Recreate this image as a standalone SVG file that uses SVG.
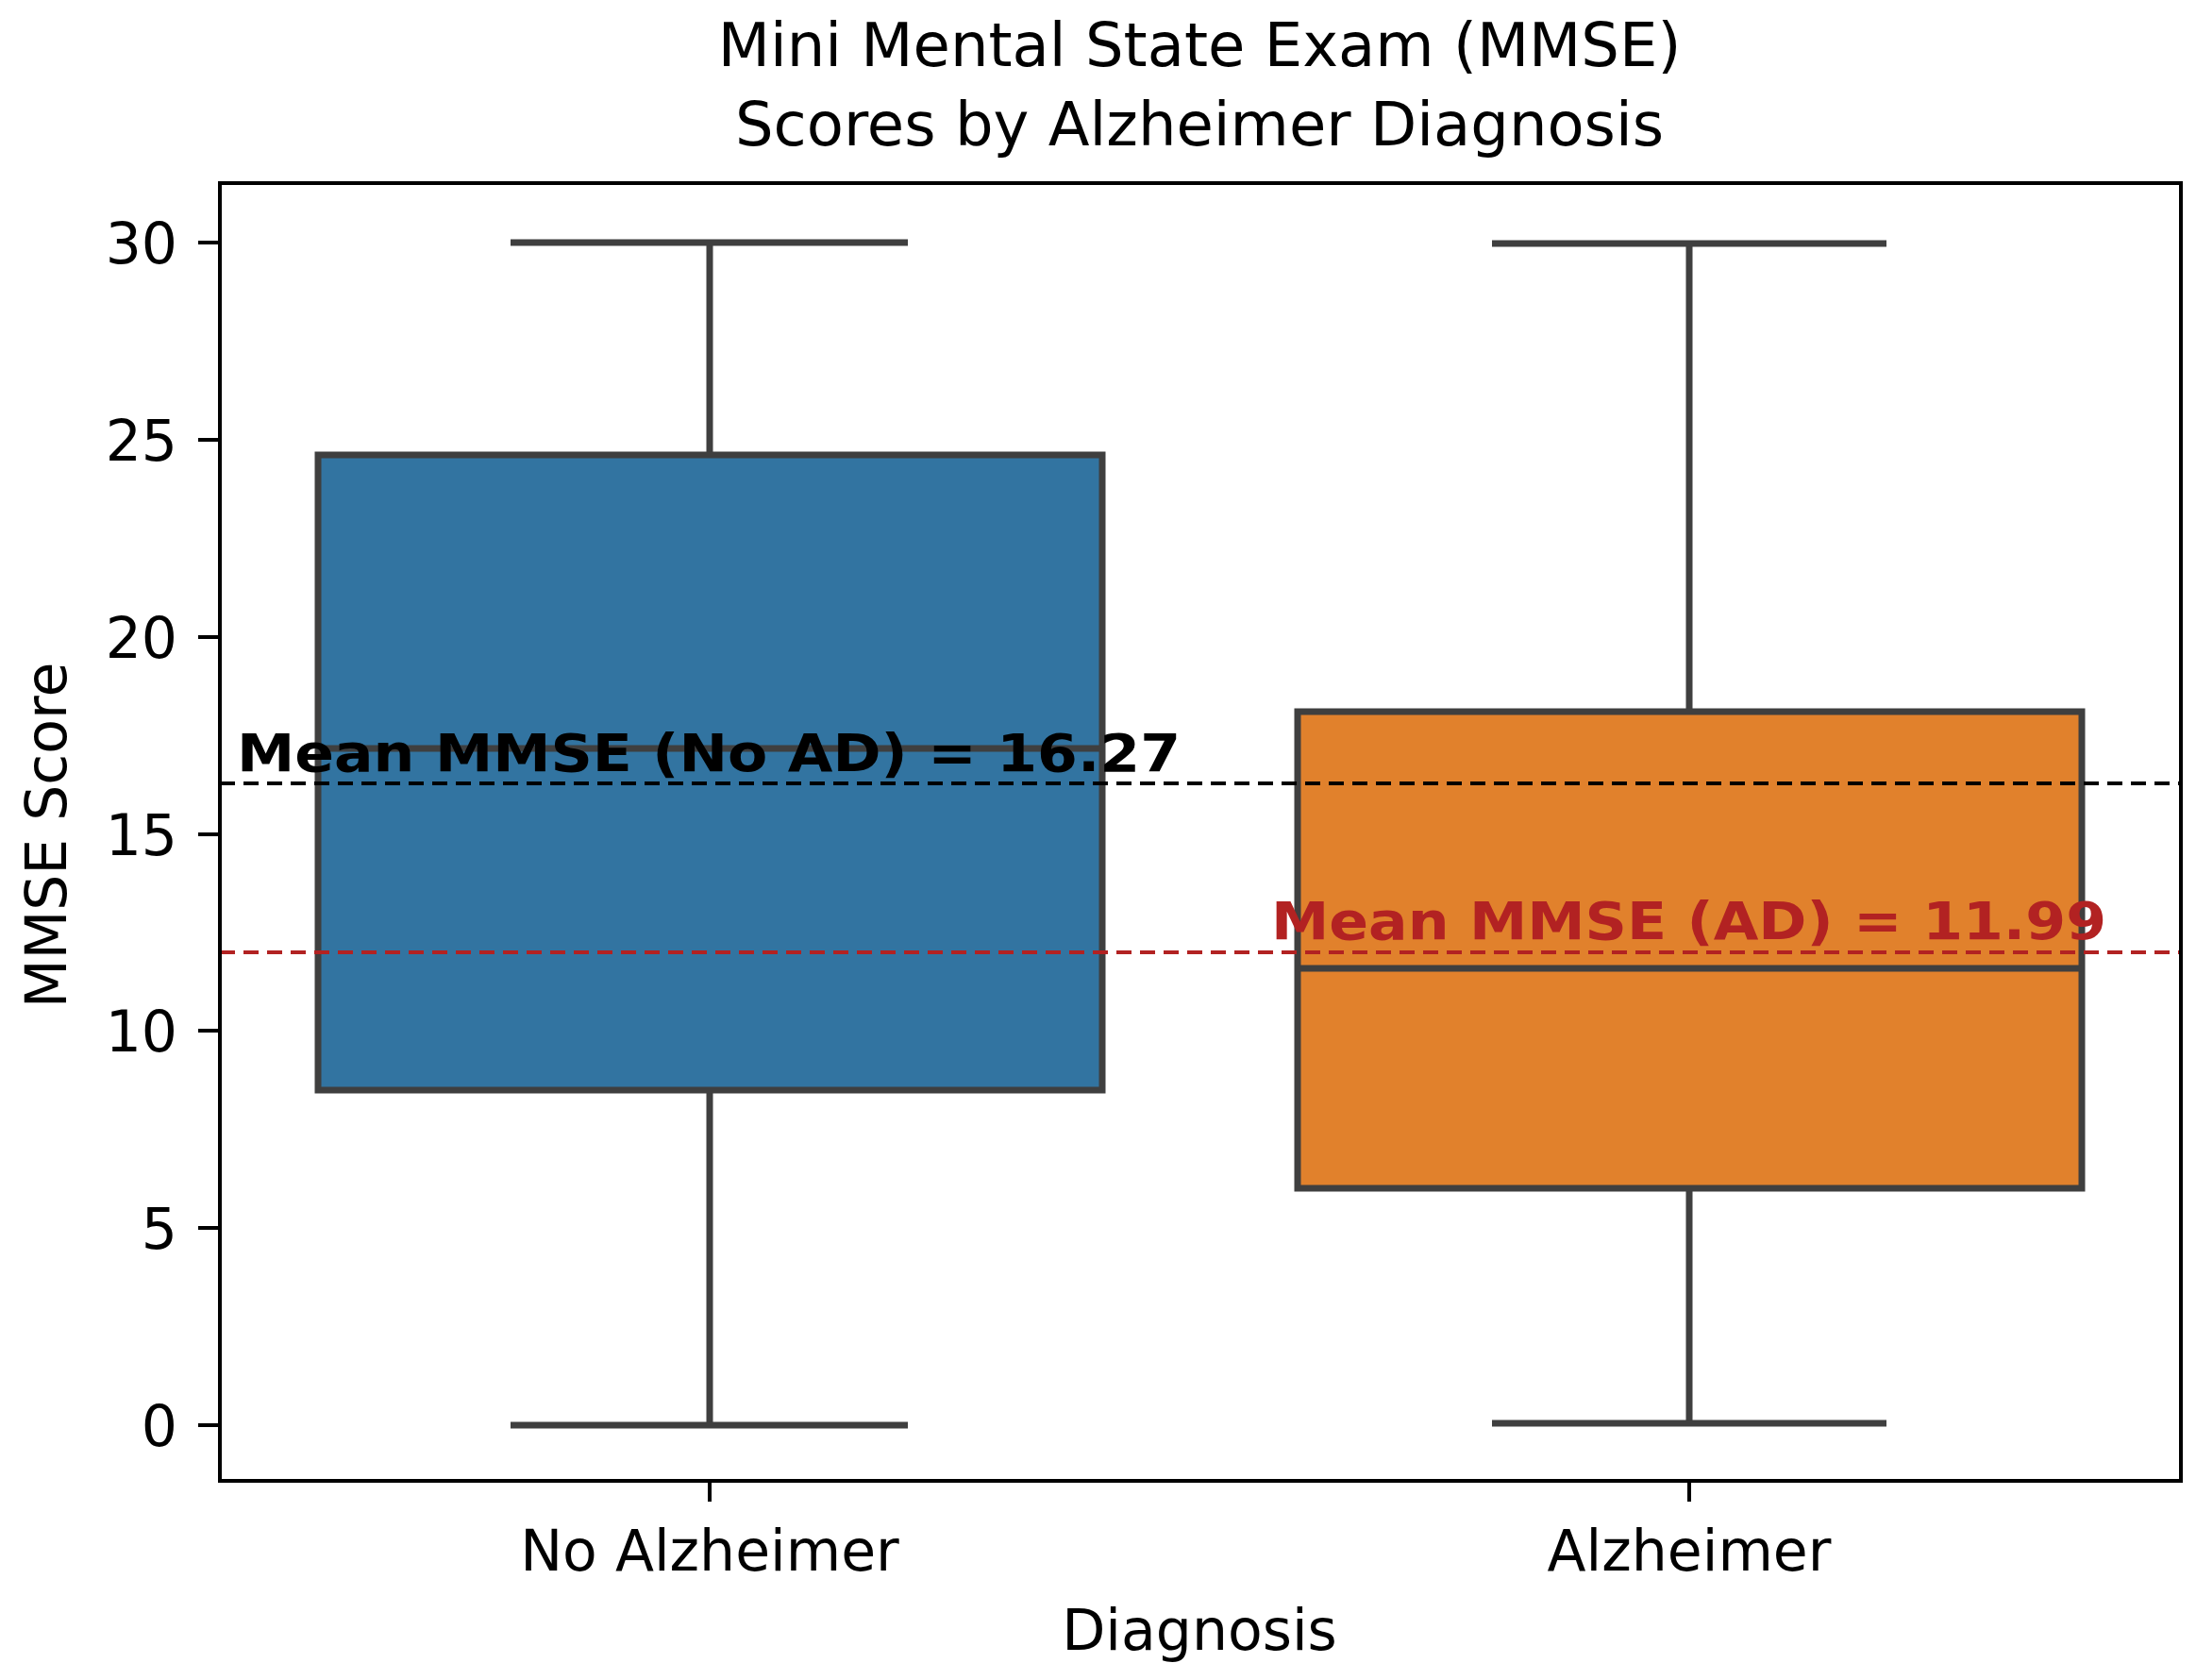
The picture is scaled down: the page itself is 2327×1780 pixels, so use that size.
<svg xmlns="http://www.w3.org/2000/svg" width="2327" height="1780" viewBox="0 0 2327 1780">
<style>
text{font-family:"DejaVu Sans",sans-serif;fill:#000}
.t{font-size:64px}
.tk{font-size:60px;text-anchor:end}
.bx{stroke:#3f3f3f;stroke-width:7}
.ln{stroke:#3f3f3f;stroke-width:7;fill:none}
</style>
<rect width="2327" height="1780" fill="#fff"/>
<g id="title"><text class="t" x="1271" y="70" text-anchor="middle">Mini Mental State Exam (MMSE)</text><text class="t" x="1271" y="154" text-anchor="middle">Scores by Alzheimer Diagnosis</text></g>
<g id="no-alzheimer">
<line class="ln" x1="752" y1="257" x2="752" y2="482"/><line class="ln" x1="752" y1="1155" x2="752" y2="1510"/>
<line class="ln" x1="541" y1="257" x2="962" y2="257"/><line class="ln" x1="541" y1="1510" x2="962" y2="1510"/>
<rect class="bx" x="337" y="482" width="831" height="673" fill="#3274a1"/>
<line class="ln" x1="337" y1="793" x2="1168" y2="793"/>
</g>
<g id="alzheimer">
<line class="ln" x1="1790" y1="257" x2="1790" y2="754"/><line class="ln" x1="1790" y1="1259" x2="1790" y2="1508"/>
<line class="ln" x1="1581" y1="258" x2="1999" y2="258"/><line class="ln" x1="1581" y1="1508" x2="1999" y2="1508"/>
<rect class="bx" x="1375" y="754" width="831" height="505" fill="#e1812c"/>
<line class="ln" x1="1375" y1="1026" x2="2206" y2="1026"/>
</g>
<g id="connectors">
<line x1="233" y1="830" x2="2311" y2="830" stroke="#000" stroke-width="4" stroke-dasharray="16,9"/>
<line x1="233" y1="1009" x2="2311" y2="1009" stroke="#b22222" stroke-width="4" stroke-dasharray="16,9"/>
</g>
<g id="labels">
<text x="251" y="817" font-size="56" font-weight="bold" textLength="1000" lengthAdjust="spacingAndGlyphs">Mean MMSE (No AD) = 16.27</text>
<text x="1347" y="995" font-size="56" font-weight="bold" style="fill:#b22222" textLength="885" lengthAdjust="spacingAndGlyphs">Mean MMSE (AD) = 11.99</text>
</g>
<g id="axes">
<rect x="233" y="194" width="2078" height="1375" fill="none" stroke="#000" stroke-width="4"/>
<g stroke="#000" stroke-width="4">
<line x1="210" y1="257" x2="233" y2="257"/><line x1="210" y1="466" x2="233" y2="466"/><line x1="210" y1="675" x2="233" y2="675"/><line x1="210" y1="884" x2="233" y2="884"/><line x1="210" y1="1092" x2="233" y2="1092"/><line x1="210" y1="1301" x2="233" y2="1301"/><line x1="210" y1="1510" x2="233" y2="1510"/>
<line x1="752" y1="1569" x2="752" y2="1591"/><line x1="1790" y1="1569" x2="1790" y2="1591"/>
</g>
<text class="tk" x="188" y="279">30</text><text class="tk" x="188" y="488">25</text><text class="tk" x="188" y="697">20</text><text class="tk" x="188" y="906">15</text><text class="tk" x="188" y="1114">10</text><text class="tk" x="188" y="1323">5</text><text class="tk" x="188" y="1532">0</text>
<text x="752" y="1664" font-size="60" text-anchor="middle">No Alzheimer</text>
<text x="1790" y="1664" font-size="60" text-anchor="middle">Alzheimer</text>
<text x="1271" y="1748" font-size="60" text-anchor="middle">Diagnosis</text>
<text x="70" y="885" font-size="60" text-anchor="middle" transform="rotate(-90 70 885)">MMSE Score</text>
</g>
</svg>
